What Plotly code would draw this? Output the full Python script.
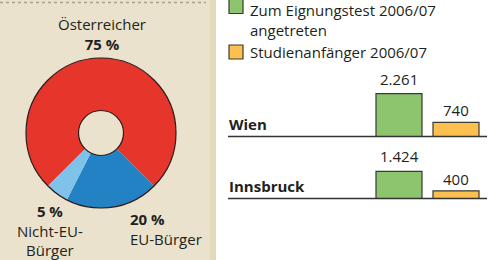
import plotly.graph_objects as go

# ---------------- data ----------------
pie_labels = ["Österreicher", "EU-Bürger", "Nicht-EU-Bürger"]
pie_values = [75, 20, 5]
pie_colors = ["#e6352a", "#2282c4", "#7fc2ea"]

cities = ["Wien", "Innsbruck"]
series_names = ["Zum Eignungstest 2006/07 angetreten", "Studienanfänger 2006/07"]
eignungstest = [2261, 1424]
studienanfaenger = [740, 400]
series_colors = ["#8dc46e", "#fbc04f"]

W, H = 503, 260
FONT = "Open Sans"
TXT = "#231f20"
EDGE = "#3a3a30"


def px(x):
    return x / W


def py(y):
    return 1 - y / H


def de(v):
    return f"{v:,}".replace(",", ".")


fig = go.Figure()

# ---------------- donut ----------------
pie_dom = dict(x=[px(26), px(176)], y=[py(208), py(58)])
fig.add_trace(go.Pie(
    labels=pie_labels, values=pie_values, sort=False,
    direction="clockwise", rotation=225, hole=0.3,
    marker=dict(colors=pie_colors, line=dict(width=0)),
    textinfo="none", hoverinfo="label+percent",
    domain=pie_dom, showlegend=False,
))
# outline ring (outer + inner circle only)
fig.add_trace(go.Pie(
    labels=["ring"], values=[1], sort=False, hole=0.3,
    marker=dict(colors=["rgba(0,0,0,0)"], line=dict(color="#2a1a1a", width=1.2)),
    textinfo="none", hoverinfo="skip",
    domain=pie_dom, showlegend=False,
))

# ---------------- bars ----------------
bar_vals = [eignungstest, studienanfaenger]
axes = [("x", "y"), ("x2", "y2")]
for ci, city in enumerate(cities):
    xa, ya = axes[ci]
    yvals = [bar_vals[0][ci], bar_vals[1][ci]]
    fig.add_trace(go.Bar(
        x=series_names, y=yvals, xaxis=xa, yaxis=ya,
        marker=dict(color=series_colors, line=dict(color=EDGE, width=1.2)),
        showlegend=False, name=city,
        hovertemplate="%{x}: %{y}<extra>" + city + "</extra>",
    ))
    for si, v in enumerate(yvals):
        fig.add_annotation(
            x=series_names[si], y=v, xref=xa, yref=ya,
            text=de(v), showarrow=False, yanchor="bottom",
            yshift=3 if si == 0 else 0,
            font=dict(family=FONT, size=15, color=TXT),
        )

xdom = [px(370.5), px(484.5)]
ax_common = dict(showgrid=False, zeroline=False, showticklabels=False,
                 showline=False, ticks="")
fig.update_layout(
    xaxis=dict(domain=xdom, range=[-0.5, 1.5], anchor="y", **ax_common),
    xaxis2=dict(domain=xdom, range=[-0.5, 1.5], anchor="y2", **ax_common),
    yaxis=dict(domain=[py(136.5), py(89)], range=[0, 2500], anchor="x", **ax_common),
    yaxis2=dict(domain=[py(198.5), py(151)], range=[0, 2500], anchor="x2", **ax_common),
    bargap=0.193,
)

# ---------------- decorations ----------------
shapes = [
    dict(type="rect", xref="paper", yref="paper", x0=0, x1=px(216), y0=0, y1=1,
         fillcolor="#eae2cc", line=dict(width=0), layer="below"),
    dict(type="rect", xref="paper", yref="paper", x0=px(210), x1=px(216), y0=0, y1=1,
         fillcolor="#e3d9bd", line=dict(width=0), layer="below"),
    dict(type="line", xref="paper", yref="paper", x0=0, x1=px(206), y0=py(2.5), y1=py(2.5),
         line=dict(color="#a8a08a", width=1.5, dash="dot")),
    # baselines
    dict(type="line", xref="paper", yref="paper", x0=px(228), x1=px(487),
         y0=py(136.5), y1=py(136.5), line=dict(color="#333333", width=1.6)),
    dict(type="line", xref="paper", yref="paper", x0=px(228), x1=px(487),
         y0=py(198.5), y1=py(198.5), line=dict(color="#333333", width=1.6)),
    # legend squares
    dict(type="rect", xref="paper", yref="paper", x0=px(229), x1=px(243),
         y0=py(13.5), y1=py(-0.5), fillcolor=series_colors[0], line=dict(color=EDGE, width=1.2)),
    dict(type="rect", xref="paper", yref="paper", x0=px(229), x1=px(243),
         y0=py(59), y1=py(45), fillcolor=series_colors[1], line=dict(color=EDGE, width=1.2)),
]
fig.update_layout(shapes=shapes)


def ann(text, x, y, xanchor="center", size=15):
    fig.add_annotation(
        x=px(x), y=py(y), xref="paper", yref="paper", text=text,
        showarrow=False, xanchor=xanchor, yanchor="middle",
        align=xanchor if xanchor != "center" else "center",
        font=dict(family=FONT, size=size, color=TXT),
    )


# pie labels
ann(f"{pie_labels[0]}<br><b>{pie_values[0]} %</b>", 102, 34)
ann(f"<b>{pie_values[2]} %</b><br>Nicht-EU-<br>Bürger", 50, 230)
ann(f"<b>{pie_values[1]} %</b><br>{pie_labels[1]}", 128, 229, xanchor="left")

# legend text
ann("Zum Eignungstest 2006/07<br>angetreten", 248, 20, xanchor="left")
ann(series_names[1], 248, 52, xanchor="left")

# city labels
ann(f"<b>{cities[0]}</b>", 227, 124, xanchor="left")
ann(f"<b>{cities[1]}</b>", 227, 186, xanchor="left")

fig.update_layout(
    width=W, height=H, margin=dict(l=0, r=0, t=0, b=0),
    paper_bgcolor="white", plot_bgcolor="rgba(0,0,0,0)",
    font=dict(family=FONT, color=TXT), showlegend=False,
)

fig.write_html("out.html")
